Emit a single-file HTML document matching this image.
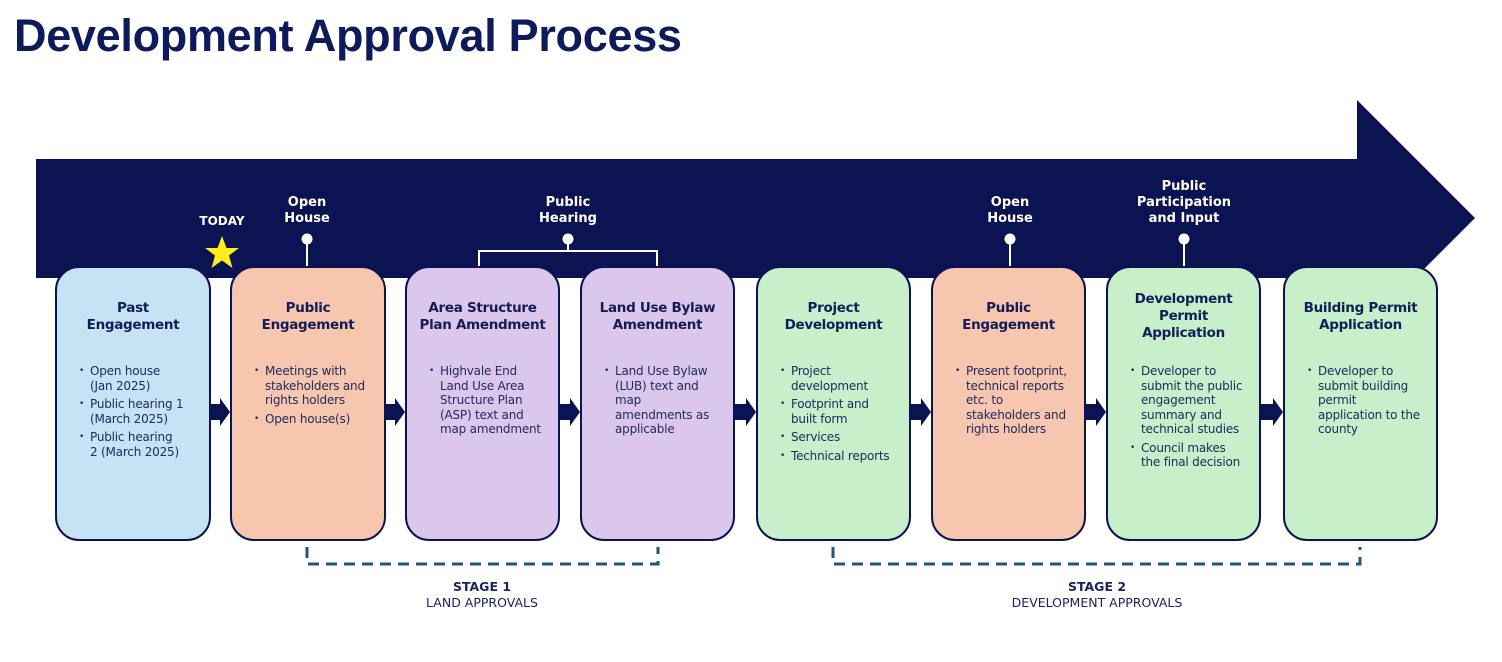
<!DOCTYPE html>
<html><head><meta charset="utf-8"><style>
*{margin:0;padding:0;box-sizing:border-box}
body{width:1502px;height:662px;background:#fff;position:relative;overflow:hidden;font-family:"DejaVu Sans",Verdana,sans-serif;color:#1a2360}
h1{position:absolute;left:14px;top:10px;font-family:"Liberation Sans",sans-serif;font-weight:bold;font-size:45px;color:#0d1a5c;letter-spacing:-0.3px}
svg{position:absolute;left:0;top:0}
.box{position:absolute;top:266px;width:156px;height:275px;border:2px solid #0b1352;border-radius:24px}
.t{position:absolute;left:0;right:0;text-align:center;font-weight:bold;font-size:13.5px;line-height:17px;color:#141c57;letter-spacing:-0.3px}
ul{position:absolute;left:22px;top:96px;list-style:none;font-size:12px;line-height:14.5px;color:#222a5e;white-space:nowrap;letter-spacing:-0.2px}
li{position:relative;padding-left:11px;margin-bottom:4px}
li:before{content:"•";position:absolute;left:0;font-size:9px}
.lbl{position:absolute;color:#fff;font-weight:bold;font-size:13px;line-height:16px;text-align:center;width:140px}
.st{position:absolute;text-align:center;width:300px;font-size:12.5px;line-height:16px;color:#1a2360}
</style></head><body>
<h1>Development Approval Process</h1>
<svg width="1502" height="662">
<polygon points="36,159 1357,159 1357,100 1475,218 1357,336 1357,278 36,278" fill="#0b1352"/>
<!-- small arrows -->
<g fill="#0b1352">
<polygon points="211,404 220,404 220,398 230,412 220,426 220,420 211,420"/>
<polygon points="386,404 395,404 395,398 405,412 395,426 395,420 386,420"/>
<polygon points="560,404 570,404 570,398 580,412 570,426 570,420 560,420"/>
<polygon points="735,404 746,404 746,398 756,412 746,426 746,420 735,420"/>
<polygon points="911,404 921,404 921,398 931,412 921,426 921,420 911,420"/>
<polygon points="1086,404 1096,404 1096,398 1106,412 1096,426 1096,420 1086,420"/>
<polygon points="1261,404 1273,404 1273,398 1283,412 1273,426 1273,420 1261,420"/>
</g>
<g stroke="#fff" stroke-width="2" fill="none">
<line x1="307" y1="239" x2="307" y2="266"/>
<polyline points="479,266 479,251 657,251 657,266"/>
<line x1="568" y1="239" x2="568" y2="251"/>
<line x1="1010" y1="239" x2="1010" y2="266"/>
<line x1="1184" y1="239" x2="1184" y2="266"/>
</g>
<g fill="#fff">
<circle cx="307" cy="239" r="5.5"/><circle cx="568" cy="239" r="5.5"/><circle cx="1010" cy="239" r="5.5"/><circle cx="1184" cy="239" r="5.5"/>
</g>
<polygon points="222,236 226.5,248 239,248 229,255.5 232.5,268 222,260.5 211.5,268 215,255.5 205,248 217.5,248" fill="#ffee1a"/>
<g stroke="#1e5a78" stroke-width="3" fill="none">
<path d="M307,547 V564 H658 V547" stroke-dasharray="11,7"/>
<path d="M833,547 V564 H1360 V547" stroke-dasharray="11,7"/>
</g>
</svg>
<div class="lbl" style="left:152px;top:213px;font-size:12px">TODAY</div>
<div class="lbl" style="left:237px;top:195px">Open<br>House</div>
<div class="lbl" style="left:498px;top:195px">Public<br>Hearing</div>
<div class="lbl" style="left:940px;top:195px">Open<br>House</div>
<div class="lbl" style="left:1114px;top:179px">Public<br>Participation<br>and Input</div>

<div class="box" style="left:55px;background:#c5e3f5"><div class="t" style="top:32px">Past<br>Engagement</div>
<ul style="top:96px"><li>Open house<br>(Jan 2025)</li><li>Public hearing 1<br>(March 2025)</li><li>Public hearing<br>2 (March 2025)</li></ul></div>
<div class="box" style="left:230px;background:#f6c6ae"><div class="t" style="top:32px">Public<br>Engagement</div>
<ul><li>Meetings with<br>stakeholders and<br>rights holders</li><li>Open house(s)</li></ul></div>
<div class="box" style="left:405px;width:155px;background:#dcc7ec"><div class="t" style="top:32px">Area Structure<br>Plan Amendment</div>
<ul><li>Highvale End<br>Land Use Area<br>Structure Plan<br>(ASP) text and<br>map amendment</li></ul></div>
<div class="box" style="left:580px;width:155px;background:#dcc7ec"><div class="t" style="top:32px">Land Use Bylaw<br>Amendment</div>
<ul><li>Land Use Bylaw<br>(LUB) text and<br>map<br>amendments as<br>applicable</li></ul></div>
<div class="box" style="left:756px;width:155px;background:#c6efca"><div class="t" style="top:32px">Project<br>Development</div>
<ul><li>Project<br>development</li><li>Footprint and<br>built form</li><li>Services</li><li>Technical reports</li></ul></div>
<div class="box" style="left:931px;width:155px;background:#f6c6ae"><div class="t" style="top:32px">Public<br>Engagement</div>
<ul><li>Present footprint,<br>technical reports<br>etc. to<br>stakeholders and<br>rights holders</li></ul></div>
<div class="box" style="left:1106px;width:155px;background:#c6efca"><div class="t" style="top:23px">Development<br>Permit<br>Application</div>
<ul><li>Developer to<br>submit the public<br>engagement<br>summary and<br>technical studies</li><li>Council makes<br>the final decision</li></ul></div>
<div class="box" style="left:1283px;width:155px;background:#c6efca"><div class="t" style="top:32px">Building Permit<br>Application</div>
<ul><li>Developer to<br>submit building<br>permit<br>application to the<br>county</li></ul></div>

<div class="st" style="left:332px;top:579px"><b>STAGE 1</b><br>LAND APPROVALS</div>
<div class="st" style="left:947px;top:579px"><b>STAGE 2</b><br>DEVELOPMENT APPROVALS</div>
</body></html>
